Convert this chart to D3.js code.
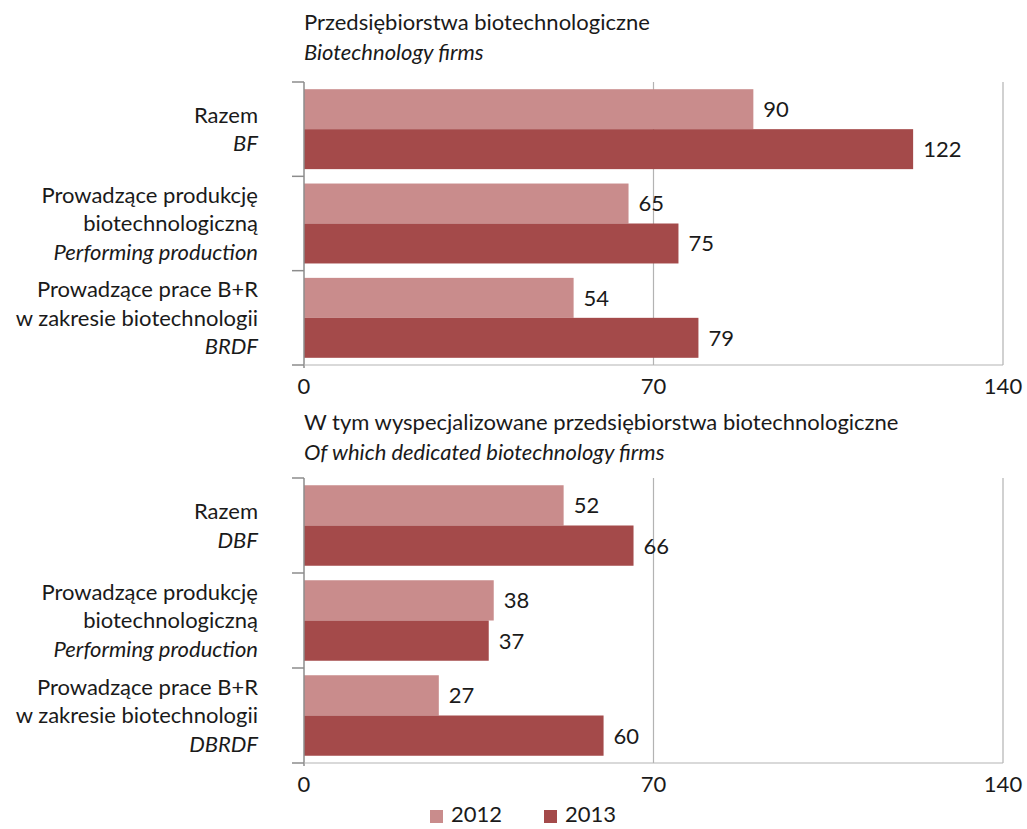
<!DOCTYPE html>
<html>
<head>
<meta charset="utf-8">
<script src="https://cdn.jsdelivr.net/npm/d3@7"></script>
<style>
  html, body { margin: 0; padding: 0; background: #ffffff; }
  svg { display: block; font-family: Lato, "Open Sans", sans-serif; }
  text { fill: #1a1a1a; }
</style>
</head>
<body>
<svg id="chart" width="1027" height="829"></svg>
<script>
// Series (years)
const years = ["2012", "2013"];
const yearColors = ["#c98c8c", "#a44a4a"];

// Category labels: each line is [text, italic?]
const categoriesAll = [
  [["Razem", false], ["BF", true]],
  [["Prowadzące produkcję", false], ["biotechnologiczną", false], ["Performing production", true]],
  [["Prowadzące prace B+R", false], ["w zakresie biotechnologii", false], ["BRDF", true]]
];
const categoriesDedicated = [
  [["Razem", false], ["DBF", true]],
  [["Prowadzące produkcję", false], ["biotechnologiczną", false], ["Performing production", true]],
  [["Prowadzące prace B+R", false], ["w zakresie biotechnologii", false], ["DBRDF", true]]
];

// Values: biotechnology firms
const all2012 = [90, 65, 54];
const all2013 = [122, 75, 79];
// Values: dedicated biotechnology firms
const dedicated2012 = [52, 38, 27];
const dedicated2013 = [66, 37, 60];

// Axis
const xTicks = [0, 70, 140];
const xMax = 140;

// Panel titles
const titleAll = ["Przedsiębiorstwa biotechnologiczne", "Biotechnology firms"];
const titleDedicated = ["W tym wyspecjalizowane przedsiębiorstwa biotechnologiczne", "Of which dedicated biotechnology firms"];

const svg = d3.select("#chart");
const FONT = 22;
const plotLeft = 304, plotRight = 1003;

const x = d3.scaleLinear().domain([0, xMax]).range([plotLeft, plotRight]);

function drawPanel(cfg) {
  const g = svg.append("g");
  const n = cfg.labels.length;
  const rows = d3.range(n).map(i => ({
    idx: i,
    label: cfg.labels[i],
    values: [cfg.v2012[i], cfg.v2013[i]]
  }));

  const y = d3.scaleBand().domain(d3.range(n)).range([cfg.top, cfg.bottom]).padding(0);
  const ySub = d3.scaleBand().domain(years).range([0, y.bandwidth()])
    .paddingInner(0).paddingOuter(0.18);

  // Title
  g.append("text")
    .attr("x", plotLeft).attr("y", cfg.titleY)
    .style("font-size", FONT + "px")
    .text(cfg.title[0]);
  g.append("text")
    .attr("x", plotLeft).attr("y", cfg.titleY + 30)
    .style("font-size", FONT + "px")
    .style("font-style", "italic")
    .text(cfg.title[1]);

  // Vertical gridlines (skip zero; that is the category axis)
  g.selectAll(".grid").data(xTicks.filter(t => t > 0)).join("line")
    .attr("x1", d => x(d)).attr("x2", d => x(d))
    .attr("y1", cfg.top).attr("y2", cfg.bottom)
    .attr("stroke", "#b3b3b3").attr("stroke-width", 1.2);

  // Bars
  const rowG = g.selectAll(".row").data(rows).join("g")
    .attr("transform", d => `translate(0,${y(d.idx)})`);
  rowG.selectAll("rect").data(d => d.values.map((v, k) => ({ v, year: years[k], k })))
    .join("rect")
    .attr("x", x(0))
    .attr("y", d => ySub(d.year))
    .attr("width", d => x(d.v) - x(0))
    .attr("height", ySub.bandwidth())
    .attr("fill", d => yearColors[d.k]);

  // Value labels
  rowG.selectAll(".val").data(d => d.values.map((v, k) => ({ v, year: years[k] })))
    .join("text")
    .attr("x", d => x(d.v) + 10)
    .attr("y", d => ySub(d.year) + ySub.bandwidth() / 2)
    .attr("dy", "0.36em")
    .style("font-size", FONT + "px")
    .text(d => d.v);

  // Category axis line and boundary ticks
  g.append("line")
    .attr("x1", x(0)).attr("x2", x(0))
    .attr("y1", cfg.top).attr("y2", cfg.bottom + 3)
    .attr("stroke", "#8c8c8c").attr("stroke-width", 1.5);
  const bounds = d3.range(n + 1).map(i => i < n ? y(i) : cfg.bottom);
  g.selectAll(".tick").data(bounds).join("line")
    .attr("x1", x(0) - 12).attr("x2", x(0))
    .attr("y1", d => d).attr("y2", d => d)
    .attr("stroke", "#8c8c8c").attr("stroke-width", 1.5);
  // Value axis line
  g.append("line")
    .attr("x1", x(0)).attr("x2", plotRight)
    .attr("y1", cfg.bottom).attr("y2", cfg.bottom)
    .attr("stroke", "#b3b3b3").attr("stroke-width", 1.2);

  // Value axis tick labels
  g.selectAll(".xlab").data(xTicks).join("text")
    .attr("x", d => x(d))
    .attr("y", cfg.bottom + 21)
    .attr("dy", "0.36em")
    .attr("text-anchor", "middle")
    .style("font-size", FONT + "px")
    .text(d => d);

  // Category labels, right aligned, centred on each band
  const lineH = 28.5;
  rows.forEach(r => {
    const cy = y(r.idx) + y.bandwidth() / 2;
    const nl = r.label.length;
    const t = g.append("text")
      .attr("text-anchor", "end")
      .style("font-size", FONT + "px");
    r.label.forEach((ln, j) => {
      t.append("tspan")
        .attr("x", 258)
        .attr("y", cy + (j - (nl - 1) / 2) * lineH)
        .attr("dy", "0.36em")
        .style("font-style", ln[1] ? "italic" : "normal")
        .text(ln[0]);
    });
  });
}

drawPanel({
  title: titleAll, titleY: 30,
  labels: categoriesAll, v2012: all2012, v2013: all2013,
  top: 82, bottom: 365
});
drawPanel({
  title: titleDedicated, titleY: 430,
  labels: categoriesDedicated, v2012: dedicated2012, v2013: dedicated2013,
  top: 478, bottom: 763
});

// Legend
const legend = svg.append("g");
const legendX = [430, 544];
years.forEach((yr, k) => {
  legend.append("rect")
    .attr("x", legendX[k]).attr("y", 810)
    .attr("width", 13).attr("height", 13)
    .attr("fill", yearColors[k]);
  legend.append("text")
    .attr("x", legendX[k] + 21).attr("y", 814)
    .attr("dy", "0.36em")
    .style("font-size", FONT + "px")
    .text(yr);
});
</script>
</body>
</html>
